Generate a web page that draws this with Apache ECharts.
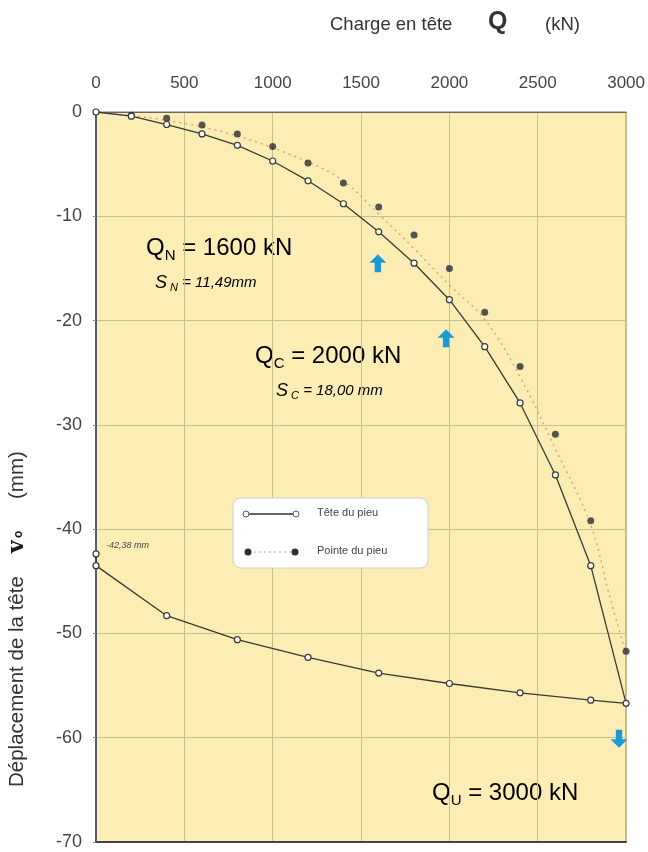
<!DOCTYPE html>
<html>
<head>
<meta charset="utf-8">
<script src="https://cdn.jsdelivr.net/npm/echarts@6/dist/echarts.min.js"></script>
<style>
  html, body { margin: 0; padding: 0; background: #ffffff; }
  #chart { width: 648px; height: 852px; }
</style>
</head>
<body>
<div id="chart"></div>
<script>
// Pile head: loading branch then unloading branch (kN, mm)
const teteLoad = [0, 200, 400, 600, 800, 1000, 1200, 1400, 1600, 1800, 2000, 2200, 2400, 2600, 2800, 3000,
                  2800, 2400, 2000, 1600, 1200, 800, 400, 0, 0];
const teteDepl = [0, -0.4, -1.2, -2.1, -3.2, -4.7, -6.6, -8.8, -11.49, -14.5, -18.0, -22.5, -27.9, -34.8, -43.5, -56.7,
                  -56.4, -55.7, -54.8, -53.8, -52.3, -50.6, -48.3, -43.5, -42.38];

// Pile tip measurements
const pointeLoad = [200, 400, 600, 800, 1000, 1200, 1400, 1600, 1800, 2000, 2200, 2400, 2600, 2800, 3000];
const pointeDepl = [-0.3, -0.6, -1.25, -2.1, -3.3, -4.9, -6.8, -9.1, -11.8, -15.0, -19.2, -24.4, -30.9, -39.2, -51.7];

// Dotted trend curve for the pile tip
const courbeLoad = [0, 400, 800, 1200, 1400, 1600, 1800, 2000, 2200, 2400, 2600, 2800, 2900, 3000];
const courbeDepl = [0, -0.8, -2.3, -4.8, -6.6, -9.8, -13.1, -16.6, -19.9, -25.4, -32.3, -39.6, -46.0, -52.0];

// Characteristic loads marked by arrows
const arrowLoad = [1595, 1981, 2960];
const arrowDepl = [-14.5, -21.7, -60.1];
const arrowDir  = [0, 0, 180];

const FONT = '"Liberation Sans", Arial, sans-serif';
const zip = (a, b) => a.map((v, i) => [v, b[i]]);

const arrowPath = 'path://M8,0 L16,8 L11,8 L11,17 L5,17 L5,8 L0,8 Z';

const chart = echarts.init(document.getElementById('chart'), null, { renderer: 'canvas' });

const subRich = (size) => ({
  m: { fontSize: size, fontFamily: FONT, color: '#333', lineHeight: size + 6, verticalAlign: 'middle' },
  s: { fontSize: Math.round(size * 0.62), fontFamily: FONT, color: '#333', lineHeight: Math.round(size * 0.62) + 2, verticalAlign: 'bottom' }
});
const subItalicRich = (size) => ({
  m: { fontSize: size, fontFamily: FONT, fontStyle: 'italic', color: '#333', lineHeight: size + 6, verticalAlign: 'middle' },
  b: { fontSize: size + 3, fontFamily: FONT, fontStyle: 'italic', color: '#333', lineHeight: size + 6, verticalAlign: 'middle' },
  s: { fontSize: Math.round(size * 0.72), fontFamily: FONT, fontStyle: 'italic', color: '#333', lineHeight: Math.round(size * 0.72) + 2, verticalAlign: 'bottom' }
});

const option = {
  backgroundColor: '#ffffff',
  animation: false,
  grid: {
    left: 96, right: 21, top: 112, bottom: 10,
    show: true, backgroundColor: '#fcedb5', borderColor: '#777', borderWidth: 1
  },
  xAxis: [{
    type: 'value', position: 'top', min: 0, max: 3000, interval: 500,
    axisLine: { show: true, lineStyle: { color: '#666', width: 1 } },
    axisTick: { show: false },
    axisLabel: { color: '#444', fontSize: 17, fontFamily: FONT, margin: 20, formatter: (v) => String(v) },
    splitLine: { show: true, lineStyle: { color: '#c6c08a', width: 1 } }
  }, {
    type: 'value', position: 'bottom', min: 0, max: 3000,
    axisLine: { show: true, onZero: false, lineStyle: { color: '#444', width: 2 } },
    axisTick: { show: false }, axisLabel: { show: false }, splitLine: { show: false }
  }],
  yAxis: {
    type: 'value', min: -70, max: 0, interval: 10,
    axisLine: { show: true, onZero: false, lineStyle: { color: '#55606a', width: 2 } },
    axisTick: { show: true, length: 3, lineStyle: { color: '#888' } },
    axisLabel: { color: '#444', fontSize: 18, fontFamily: FONT, margin: 14, formatter: (v) => String(v) },
    splitLine: { show: true, lineStyle: { color: '#c6c08a', width: 1 } }
  },
  series: [
    {
      name: 'Pointe du pieu (courbe)', type: 'line', smooth: 0.4,
      data: zip(courbeLoad, courbeDepl), showSymbol: false, symbol: 'none',
      lineStyle: { color: '#ec8f7c', width: 1.3, type: [2, 4] }, z: 2
    },
    {
      name: 'Pointe du pieu', type: 'scatter',
      data: zip(pointeLoad, pointeDepl), symbol: 'circle', symbolSize: 7,
      itemStyle: { color: '#2d2d33' }, z: 4
    },
    {
      name: 'Tête du pieu', type: 'line',
      data: zip(teteLoad, teteDepl), symbol: 'circle', symbolSize: 6, showSymbol: true,
      lineStyle: { color: '#3a3a34', width: 1.3 },
      itemStyle: { color: '#ffffff', borderColor: '#3a3a34', borderWidth: 1.2 }, z: 5,
      markPoint: {
        symbol: arrowPath, symbolSize: [17, 18], silent: true,
        itemStyle: { color: '#1a9ad8' },
        label: { show: false },
        data: arrowLoad.map((q, i) => ({ coord: [q, arrowDepl[i]], symbolRotate: arrowDir[i] }))
      }
    }
  ],
  graphic: [
    // Axis titles
    { type: 'text', left: 330, top: 15, style: { text: 'Charge en tête', fontSize: 18.5, fontFamily: FONT, fill: '#333' } },
    { type: 'text', left: 488, top: 10, style: { text: 'Q', fontSize: 25, fontWeight: 'bold', fontFamily: FONT, fill: '#333' } },
    { type: 'text', left: 545, top: 15, style: { text: '(kN)', fontSize: 18.5, fontFamily: FONT, fill: '#333' } },
    { type: 'text', x: 7, y: 787, rotation: Math.PI / 2,
      style: { text: 'Déplacement de la tête', fontSize: 20.5, fontFamily: FONT, fill: '#333', textAlign: 'left', textVerticalAlign: 'top' } },
    { type: 'text', x: 6, y: 553, rotation: Math.PI / 2,
      style: { text: 'v', fontSize: 22, fontWeight: 'bold', fontFamily: 'DejaVu Serif, serif', fill: '#1a1a10', textAlign: 'left', textVerticalAlign: 'top' } },
    { type: 'text', x: 13, y: 538, rotation: Math.PI / 2,
      style: { text: 'o', fontSize: 12, fontWeight: 'bold', fontFamily: FONT, fill: '#1a1a10', textAlign: 'left', textVerticalAlign: 'top' } },
    { type: 'text', x: 7, y: 499, rotation: Math.PI / 2,
      style: { text: '(mm)', fontSize: 20.5, fontFamily: FONT, fill: '#333', textAlign: 'left', textVerticalAlign: 'top' } },

    // Annotations
    { type: 'text', left: 146, top: 236, style: { text: '{m|Q}{s|N}{m| = 1600 kN}', rich: subRich(24) } },
    { type: 'text', left: 155, top: 274, style: { text: '{b|S}{s| N}{m| = 11,49mm}', rich: subItalicRich(15) } },
    { type: 'text', left: 255, top: 344, style: { text: '{m|Q}{s|C}{m| = 2000 kN}', rich: subRich(24) } },
    { type: 'text', left: 276, top: 382, style: { text: '{b|S}{s| C}{m| = 18,00 mm}', rich: subItalicRich(15) } },
    { type: 'text', left: 432, top: 781, style: { text: '{m|Q}{s|U}{m| = 3000 kN}', rich: subRich(24) } },
    { type: 'text', left: 106, top: 541, style: { text: '-42,38 mm', fontSize: 9, fontStyle: 'italic', fontFamily: FONT, fill: '#444' } },

    // Legend box
    { type: 'rect', shape: { x: 233, y: 498, width: 195, height: 70, r: 8 },
      style: { fill: '#ffffff', stroke: '#cfcfcf', lineWidth: 1 }, z: 10 },
    { type: 'line', shape: { x1: 246, y1: 514, x2: 296, y2: 514 }, style: { stroke: '#333', lineWidth: 1.5 }, z: 11 },
    { type: 'circle', shape: { cx: 246, cy: 514, r: 3 }, style: { fill: '#fff', stroke: '#555', lineWidth: 1 }, z: 12 },
    { type: 'circle', shape: { cx: 296, cy: 514, r: 3 }, style: { fill: '#fff', stroke: '#555', lineWidth: 1 }, z: 12 },
    { type: 'text', left: 317, top: 507, style: { text: 'Tête du pieu', fontSize: 11, fontFamily: FONT, fill: '#444' }, z: 12 },
    { type: 'line', shape: { x1: 249, y1: 552, x2: 295, y2: 552 }, style: { stroke: '#ec8f7c', lineWidth: 1.2, lineDash: [2, 3] }, z: 11 },
    { type: 'circle', shape: { cx: 248, cy: 552, r: 3.5 }, style: { fill: '#2d2d33' }, z: 12 },
    { type: 'circle', shape: { cx: 295, cy: 552, r: 3.5 }, style: { fill: '#2d2d33' }, z: 12 },
    { type: 'text', left: 317, top: 545, style: { text: 'Pointe du pieu', fontSize: 11, fontFamily: FONT, fill: '#444' }, z: 12 }
  ]
};

chart.setOption(option);
</script>
</body>
</html>
